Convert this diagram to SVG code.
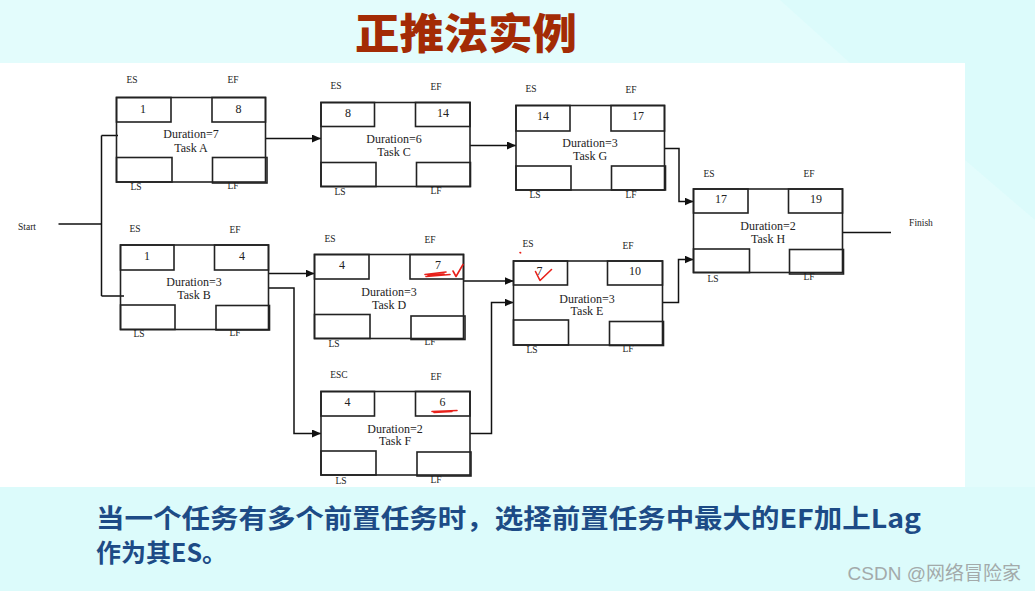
<svg xmlns="http://www.w3.org/2000/svg" width="1035" height="591" viewBox="0 0 1035 591">
<defs>
<marker id="arr" markerUnits="userSpaceOnUse" markerWidth="9" markerHeight="8" refX="9" refY="4" orient="auto"><path d="M0,0 L9,4 L0,8 z" fill="#111"/></marker>
<style>
.box{fill:none;stroke:#222;stroke-width:1.6}
.n{font-family:"Liberation Serif",serif;font-size:12px;fill:#222;text-anchor:middle}
.l{font-family:"Liberation Serif",serif;font-size:9.5px;fill:#222;text-anchor:middle}
.c{fill:none;stroke:#111;stroke-width:1.5}
.red{fill:none;stroke:#e8201a;stroke-width:1.6;stroke-linecap:round;stroke-linejoin:round}
</style>
</defs>
<rect x="0" y="0" width="1035" height="591" fill="#dcfbfb"/>
<polygon points="0,0 780,0 850,63 0,63" fill="#e3fcfc"/>
<polygon points="965,160 1035,220 1035,487 965,487" fill="#e3fcfc"/>
<rect x="0" y="63" width="965" height="424" fill="#ffffff"/>
<text x="466" y="49" text-anchor="middle" font-family="Noto Sans CJK SC, sans-serif" font-weight="900" font-size="42" textLength="222" lengthAdjust="spacingAndGlyphs" fill="#a32b05">正推法实例</text>

<g id="connectors">
<path class="c" d="M58.5,224 H101.5 M101.5,135.5 V296 M101.5,135.5 H118 M101.5,296 H124"/>
<path class="c" d="M265.5,138.5 H321" marker-end="url(#arr)"/>
<path class="c" d="M470,145.5 H516" marker-end="url(#arr)"/>
<path class="c" d="M664.5,148.5 H679 V201.5 H693.5" marker-end="url(#arr)"/>
<path class="c" d="M268.5,273.5 H314.5" marker-end="url(#arr)"/>
<path class="c" d="M268.5,288 H294 V433.5 H321" marker-end="url(#arr)"/>
<path class="c" d="M463.5,281 H513.5" marker-end="url(#arr)"/>
<path class="c" d="M470,433.5 H491.5 V302.5 H513.5" marker-end="url(#arr)"/>
<path class="c" d="M662.5,302.5 H678.5 V259.5 H693.5" marker-end="url(#arr)"/>
<path class="c" d="M842.5,232.5 H891"/>
</g>

<g id="start"><text class="l" x="27" y="229.5" font-size="9">Start</text></g>
<g id="finish"><text class="l" x="921" y="225.5" font-size="9">Finish</text></g>

<g id="taskA">
<rect class="box" x="116.5" y="97.5" width="149" height="84.5"/>
<rect class="box" x="116.5" y="97.5" width="54.5" height="24.5"/>
<rect class="box" x="212" y="97.5" width="53.5" height="24.5"/>
<rect class="box" x="116.5" y="157.5" width="55.5" height="24.5"/>
<rect class="box" x="212.5" y="157.5" width="54.5" height="25.5"/>
<text class="n" x="143" y="113">1</text><text class="n" x="238.5" y="113">8</text>
<text class="n" x="191" y="138">Duration=7</text><text class="n" x="191" y="151.5">Task A</text>
<text class="l" x="132" y="83">ES</text><text class="l" x="233" y="83">EF</text>
<text class="l" x="136" y="190">LS</text><text class="l" x="233" y="189">LF</text>
</g>

<g id="taskB">
<rect class="box" x="120.5" y="245" width="148" height="84.5"/>
<rect class="box" x="120.5" y="245" width="53.5" height="25"/>
<rect class="box" x="214.5" y="245" width="54" height="25"/>
<rect class="box" x="120.5" y="305" width="54.5" height="24.5"/>
<rect class="box" x="216" y="305.5" width="53.5" height="24.5"/>
<text class="n" x="147" y="260">1</text><text class="n" x="242" y="260">4</text>
<text class="n" x="194" y="286">Duration=3</text><text class="n" x="194" y="299">Task B</text>
<text class="l" x="135" y="232">ES</text><text class="l" x="235" y="233">EF</text>
<text class="l" x="139" y="337">LS</text><text class="l" x="235" y="336">LF</text>
</g>

<g id="taskC">
<rect class="box" x="321" y="102.5" width="149" height="84"/>
<rect class="box" x="321" y="102.5" width="53.5" height="24"/>
<rect class="box" x="415.5" y="102.5" width="54.5" height="24"/>
<rect class="box" x="321" y="162.5" width="55" height="24"/>
<rect class="box" x="416.5" y="162.5" width="54" height="24"/>
<text class="n" x="348" y="117">8</text><text class="n" x="443" y="117">14</text>
<text class="n" x="394" y="143">Duration=6</text><text class="n" x="394" y="155.5">Task C</text>
<text class="l" x="336" y="89">ES</text><text class="l" x="436" y="90">EF</text>
<text class="l" x="340" y="195">LS</text><text class="l" x="436" y="194">LF</text>
</g>

<g id="taskG">
<rect class="box" x="516" y="105.5" width="148.5" height="84.5"/>
<rect class="box" x="516" y="105.5" width="54" height="25.5"/>
<rect class="box" x="611" y="105.5" width="53.5" height="25.5"/>
<rect class="box" x="516" y="166" width="55" height="24"/>
<rect class="box" x="611.5" y="166" width="54" height="24"/>
<text class="n" x="543" y="120">14</text><text class="n" x="638" y="120">17</text>
<text class="n" x="590" y="147">Duration=3</text><text class="n" x="590" y="159.5">Task G</text>
<text class="l" x="531" y="92">ES</text><text class="l" x="631" y="93">EF</text>
<text class="l" x="535" y="198">LS</text><text class="l" x="631" y="198">LF</text>
</g>

<g id="taskD">
<rect class="box" x="314.5" y="254.5" width="149" height="84"/>
<rect class="box" x="314.5" y="254.5" width="54.5" height="24.5"/>
<rect class="box" x="410" y="254.5" width="53.5" height="24.5"/>
<rect class="box" x="314.5" y="314.5" width="55.5" height="24"/>
<rect class="box" x="411" y="316" width="54" height="23.5"/>
<text class="n" x="342" y="268.5">4</text><text class="n" x="438" y="268.5">7</text>
<text class="n" x="389" y="296">Duration=3</text><text class="n" x="389" y="308.5">Task D</text>
<text class="l" x="330" y="241.5">ES</text><text class="l" x="430" y="242.5">EF</text>
<text class="l" x="334" y="346.5">LS</text><text class="l" x="430" y="345">LF</text>
<path class="red" d="M425,274.5 L446,272 M426,276.5 L450,274.5 M428,275.5 L444,274"/>
<path class="red" d="M453,271 L456,276.5 L463,264.5"/>
</g>

<g id="taskE">
<rect class="box" x="513.5" y="261" width="149" height="84"/>
<rect class="box" x="513.5" y="261" width="54" height="24"/>
<rect class="box" x="607.5" y="261" width="55" height="24"/>
<rect class="box" x="513.5" y="320" width="55" height="25"/>
<rect class="box" x="609.5" y="321.5" width="54" height="24"/>
<text class="n" x="539.5" y="275">7</text><text class="n" x="635" y="275">10</text>
<text class="n" x="587" y="302.5">Duration=3</text><text class="n" x="587" y="315">Task E</text>
<text class="l" x="528" y="247">ES</text><text class="l" x="628" y="249">EF</text>
<text class="l" x="532" y="352.5">LS</text><text class="l" x="628" y="352">LF</text>
<path class="red" d="M535.5,271.5 L540,280.5 L551.5,269.5"/>
<path class="red" d="M520,252.5 L520.6,252.8"/>
</g>

<g id="taskF">
<rect class="box" x="321" y="391.5" width="149" height="83.5"/>
<rect class="box" x="321" y="391.5" width="53.5" height="24.5"/>
<rect class="box" x="415.5" y="391.5" width="54.5" height="24.5"/>
<rect class="box" x="321" y="451" width="55" height="24"/>
<rect class="box" x="417" y="452" width="54" height="24"/>
<text class="n" x="347.5" y="406">4</text><text class="n" x="442.5" y="406">6</text>
<text class="n" x="395" y="432.5">Duration=2</text><text class="n" x="395" y="445">Task F</text>
<text class="l" x="339" y="378">ESC</text><text class="l" x="436" y="380">EF</text>
<text class="l" x="341" y="484">LS</text><text class="l" x="436" y="483">LF</text>
<path class="red" d="M432,411.5 L457,410.5 M434,412.5 L452,411.5"/>
</g>

<g id="taskH">
<rect class="box" x="693.5" y="189" width="149" height="83.5"/>
<rect class="box" x="693.5" y="189" width="54.5" height="24"/>
<rect class="box" x="788.5" y="189" width="54" height="24"/>
<rect class="box" x="693.5" y="249" width="56" height="23.5"/>
<rect class="box" x="789.5" y="249.5" width="54" height="24.5"/>
<text class="n" x="721" y="202.5">17</text><text class="n" x="816" y="202.5">19</text>
<text class="n" x="768" y="230">Duration=2</text><text class="n" x="768" y="242.5">Task H</text>
<text class="l" x="709" y="176.5">ES</text><text class="l" x="809" y="176.5">EF</text>
<text class="l" x="713" y="281.5">LS</text><text class="l" x="809" y="280">LF</text>
</g>

<g id="caption" font-family="Noto Sans CJK SC, sans-serif" font-weight="700" fill="#1d4b86">
<text x="96" y="528" font-size="26" textLength="825" lengthAdjust="spacingAndGlyphs">当一个任务有多个前置任务时，选择前置任务中最大的EF加上Lag</text>
<text x="96" y="562" font-size="25">作为其ES。</text>
</g>
<text x="1021" y="580" text-anchor="end" font-family="Liberation Sans, Noto Sans CJK SC, sans-serif" font-size="19" fill="#a3aaaa">CSDN @网络冒险家</text>
</svg>
